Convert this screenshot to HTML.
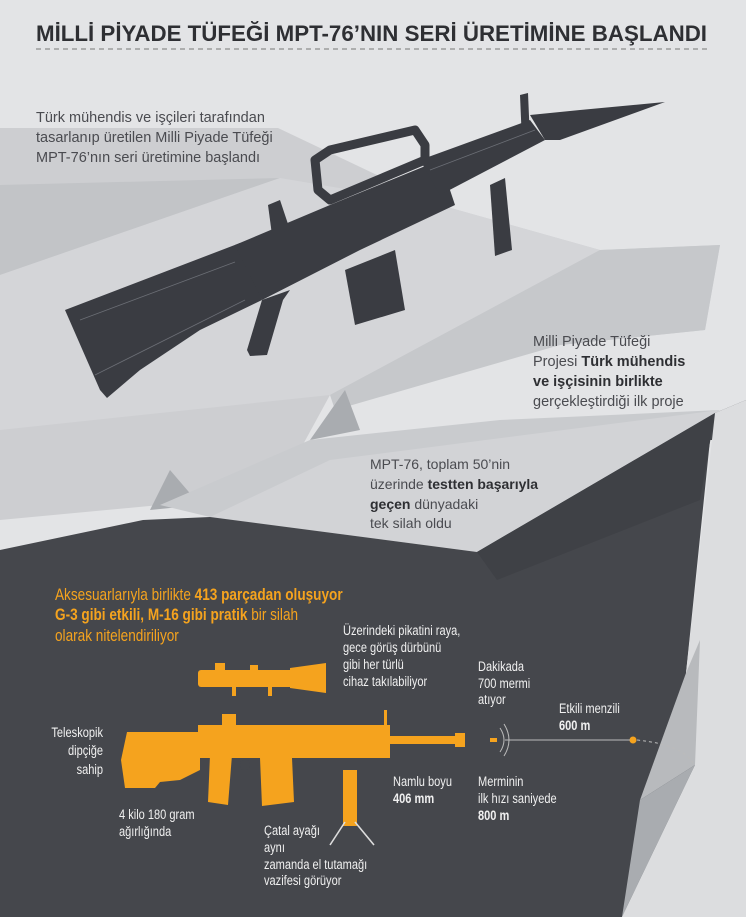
<!DOCTYPE html>
<html><head><meta charset="utf-8"><style>
html,body{margin:0;padding:0;background:#e3e4e6}
svg{display:block}
text{font-family:"Liberation Sans",sans-serif}
</style></head><body>
<svg width="746" height="917" viewBox="0 0 746 917" xmlns="http://www.w3.org/2000/svg">
<rect width="746" height="917" fill="#e3e4e6"/>
<polygon points="0,128 278,128 440,205 600,250 720,245 705,330 560,345 330,395 300,450 160,505 0,520" fill="#cdced1"/>
<polygon points="0,185 280,178 0,275" fill="#c2c4c7"/>
<polygon points="0,275 280,178 440,205 600,250 330,395 0,430" fill="#d4d5d8"/>
<polygon points="330,395 600,250 720,245 705,330 560,345 335,410" fill="#c6c8cb"/>
<polygon points="310,440 345,390 360,430" fill="#a9acb0"/>
<polygon points="150,510 170,470 200,505" fill="#a9acb0"/>
<polygon points="160,505 310,440 500,420 720,410 480,552 210,517" fill="#c9cbce"/>
<polygon points="210,517 330,460 720,410 715,413 477,552" fill="#d2d3d6"/>
<polygon points="0,550 143,520 210,517 477,552 715,413 746,400 746,440 710,440 686,673 695,765 622,917 0,917" fill="#45474c"/>
<polygon points="477,552 715,413 700,500 497,580" fill="#3f4146"/>
<polygon points="715,413 746,400 746,917 622,917 695,765 686,673" fill="#dcdddf"/>
<polygon points="686,673 700,640 695,765 640,800" fill="#b8babd"/>
<polygon points="640,800 695,765 622,917" fill="#a9acb0"/>
<text x="36" y="41" font-size="22" font-weight="bold" fill="#2e2f33" textLength="671" lengthAdjust="spacingAndGlyphs">MİLLİ PİYADE TÜFEĞİ MPT-76’NIN SERİ ÜRETİMİNE BAŞLANDI</text>
<line x1="36" y1="49" x2="707" y2="49" stroke="#777" stroke-width="1" stroke-dasharray="5,4"/>
<g fill="#3a3c42">
<polygon points="65,310 240,243 262,300 200,330 140,370 107,398 100,390"/>
<polygon points="235,245 330,205 440,160 455,205 360,250 262,300"/>
<polygon points="420,160 530,120 545,140 440,195"/>
<polygon points="530,115 580,110 665,102 560,140 545,140"/>
<polygon points="247,350 262,300 290,290 283,300 267,355 250,356"/>
<polygon points="345,270 395,250 405,310 355,325"/>
<polygon points="490,185 505,178 512,250 495,256"/>
<polygon points="315,160 330,150 415,130 425,145 425,160 330,200 318,190" fill="none" stroke="#3a3c42" stroke-width="9" stroke-linejoin="round"/>
<polygon points="520,95 528,93 530,140 522,142"/>
<polygon points="268,205 280,200 290,230 272,235"/>
</g>
<g fill="none" stroke="#6b6e75" stroke-width="0.8">
<polyline points="80,320 235,262"/><polyline points="95,375 245,300"/><polyline points="430,170 535,130"/>
</g>
<text font-size="14.5" fill="#4a4b50"><tspan x="36" y="122">Türk mühendis ve işçileri tarafından</tspan><tspan x="36" y="142">tasarlanıp üretilen Milli Piyade Tüfeği</tspan><tspan x="36" y="162">MPT-76’nın seri üretimine başlandı</tspan></text>
<text font-size="14.5" fill="#4a4b50"><tspan x="533" y="346">Milli Piyade Tüfeği</tspan><tspan x="533" y="366">Projesi <tspan font-weight="bold" fill="#2e2f33">Türk mühendis</tspan></tspan><tspan x="533" y="386" font-weight="bold" fill="#2e2f33">ve işçisinin birlikte</tspan><tspan x="533" y="406">gerçekleştirdiği ilk proje</tspan></text>
<text font-size="14" fill="#4a4b50"><tspan x="370" y="469">MPT-76, toplam 50’nin</tspan><tspan x="370" y="489">üzerinde <tspan font-weight="bold" fill="#2e2f33">testten başarıyla</tspan></tspan><tspan x="370" y="509"><tspan font-weight="bold" fill="#2e2f33">geçen</tspan> dünyadaki</tspan><tspan x="370" y="528">tek silah oldu</tspan></text>
<text transform="translate(55,0) scale(0.8,1)" font-size="17" fill="#f5a31e"><tspan x="0" y="600">Aksesuarlarıyla birlikte <tspan font-weight="bold">413 parçadan oluşuyor</tspan></tspan><tspan x="0" y="620"><tspan font-weight="bold">G-3 gibi etkili, M-16 gibi pratik</tspan> bir silah</tspan><tspan x="0" y="641">olarak nitelendiriliyor</tspan></text>
<g font-size="14" fill="#f0f0f0">
<text transform="translate(343,0) scale(0.79,1)"><tspan x="0" y="635">Üzerindeki pikatini raya,</tspan><tspan x="0" y="652">gece görüş dürbünü</tspan><tspan x="0" y="669">gibi her türlü</tspan><tspan x="0" y="686">cihaz takılabiliyor</tspan></text>
<text transform="translate(478,0) scale(0.79,1)"><tspan x="0" y="671">Dakikada</tspan><tspan x="0" y="688">700 mermi</tspan><tspan x="0" y="704">atıyor</tspan></text>
<text transform="translate(559,0) scale(0.79,1)"><tspan x="0" y="713">Etkili menzili</tspan><tspan x="0" y="730" font-weight="bold">600 m</tspan></text>
<text transform="translate(103,0) scale(0.79,1)" text-anchor="end"><tspan x="0" y="737">Teleskopik</tspan><tspan x="0" y="755">dipçiğe</tspan><tspan x="0" y="774">sahip</tspan></text>
<text transform="translate(393,0) scale(0.79,1)"><tspan x="0" y="786">Namlu boyu</tspan><tspan x="0" y="803" font-weight="bold">406 mm</tspan></text>
<text transform="translate(478,0) scale(0.79,1)"><tspan x="0" y="786">Merminin</tspan><tspan x="0" y="803">ilk hızı saniyede</tspan><tspan x="0" y="820" font-weight="bold">800 m</tspan></text>
<text transform="translate(119,0) scale(0.79,1)"><tspan x="0" y="819">4 kilo 180 gram</tspan><tspan x="0" y="836">ağırlığında</tspan></text>
<text transform="translate(264,0) scale(0.79,1)"><tspan x="0" y="835">Çatal ayağı</tspan><tspan x="0" y="852">aynı</tspan><tspan x="0" y="869">zamanda el tutamağı</tspan><tspan x="0" y="885">vazifesi görüyor</tspan></text>
</g>
<g fill="#f5a31e">
<polygon points="127,732 200,732 200,770 180,780 160,782 155,788 125,788 121,760"/>
<rect x="198" y="725" width="192" height="33"/>
<rect x="222" y="714" width="14" height="12"/>
<rect x="384" y="710" width="3" height="16"/>
<rect x="388" y="736" width="76" height="8"/>
<rect x="455" y="733" width="10" height="14"/>
<polygon points="210,755 232,755 228,805 208,802"/>
<polygon points="260,758 292,758 294,802 262,806"/>
<rect x="198" y="670" width="128" height="17" rx="3"/>
<polygon points="290,668 326,663 326,693 290,688"/>
<rect x="215" y="663" width="10" height="10"/>
<rect x="250" y="665" width="8" height="8"/>
<rect x="232" y="684" width="4" height="12"/>
<rect x="268" y="684" width="4" height="12"/>
<rect x="343" y="770" width="14" height="56"/>
<rect x="490" y="738" width="7" height="4"/>
<circle cx="633" cy="740" r="3.5"/>
</g>
<rect x="240" y="760" width="10" height="10" rx="4" fill="#45474c"/>
<g stroke="#ddd" stroke-width="1.6" fill="none">
<line x1="345" y1="822" x2="330" y2="845"/><line x1="355" y1="822" x2="374" y2="845"/>
</g>
<g stroke="#bbb" stroke-width="1" fill="none">
<path d="M500,728 Q508,740 500,752"/><path d="M504,724 Q514,740 504,756"/>
<line x1="505" y1="740" x2="630" y2="740"/>
<path d="M637,740 Q685,745 694,765" stroke-dasharray="3,3"/>
</g>
</svg>
</body></html>
